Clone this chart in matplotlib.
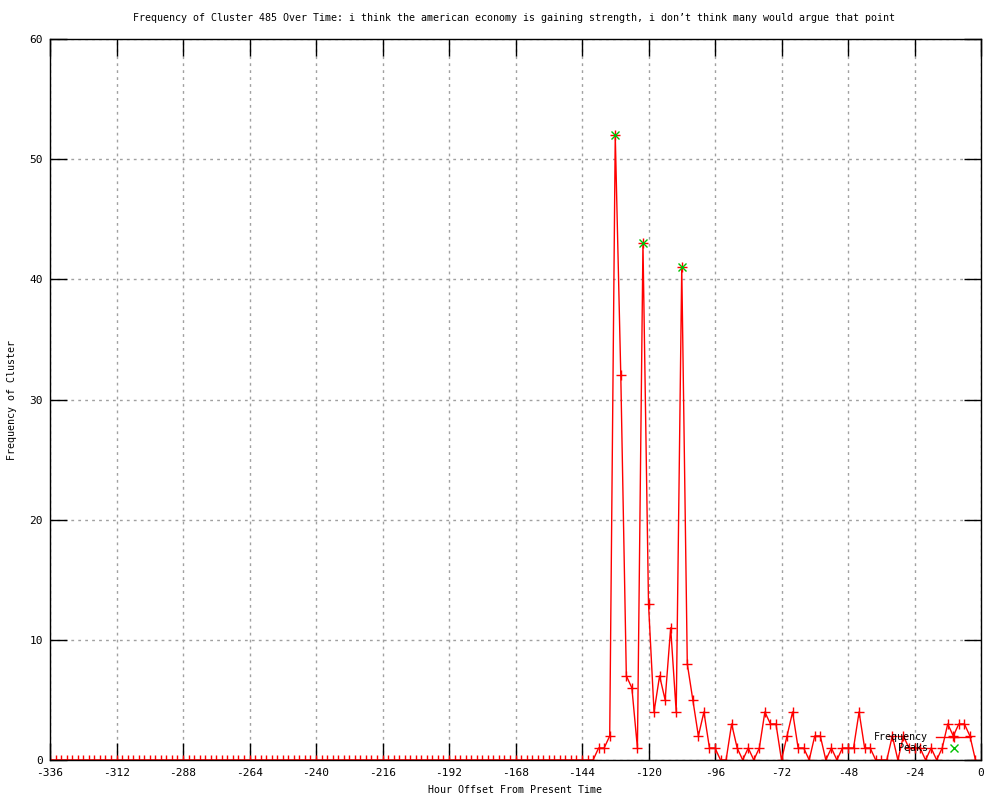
import numpy as np
import matplotlib
matplotlib.use("Agg")
import matplotlib.pyplot as plt

# Data values (hour offsets every 2 hours)
hours = list(range(-336, 0, 2))
active = [1, 1, 2, 52, 32, 7, 6, 1, 43, 13, 4, 7, 5, 11, 4, 41, 8, 5, 2, 4,
          1, 1, 0, 0, 3, 1, 0, 1, 0, 1, 4, 3, 3, 0, 2, 4, 1, 1, 0, 2,
          2, 0, 1, 0, 1, 1, 1, 4, 1, 1, 0, 0, 0, 2, 0, 2, 1, 1, 1, 0,
          1, 0, 1, 3, 2, 3, 3, 2, 0]
freq = [0] * (len(hours) - len(active)) + active

peak_hours = [-132, -122, -108]
peak_vals = [52, 43, 41]

title = ("Frequency of Cluster 485 Over Time: i think the american economy is "
         "gaining strength, i don\u2019t think many would argue that point")

plt.rcParams['font.family'] = ['DejaVu Sans Mono']
plt.rcParams['font.size'] = 8
plt.rcParams['axes.unicode_minus'] = False

fig = plt.figure(figsize=(10, 8), dpi=100)
ax = fig.add_axes([0.05, 0.05, 0.931, 0.90125])

ax.plot(hours, freq, color='red', lw=1, marker='+', markersize=7,
        markeredgewidth=1, label='Frequency')
ax.plot(peak_hours, peak_vals, color='#00c000', lw=0, marker='x',
        markersize=6, markeredgewidth=1, label='Peaks')

#Limits / ticks
ax.set_xlim(-336, 0)
ax.set_ylim(0, 60)
ax.set_xticks(range(-336, 1, 24))
ax.set_yticks(range(0, 61, 10))
ax.tick_params(direction='in', length=12, width=1, top=True, right=True,
               labelsize=8)
ax.tick_params(axis='x', pad=6)
ax.tick_params(axis='y', pad=5)
ax.grid(True, color='#a0a0a0', linestyle=(0, (2, 3)), linewidth=1)
for s in ax.spines.values():
    s.set_linewidth(1)

fig.text(0.514, 0.978, title, ha='center', va='center', fontsize=7.2)
ax.set_xlabel("Hour Offset From Present Time", fontsize=7.2, labelpad=5)
ax.set_ylabel("Frequency of Cluster", fontsize=7.2, labelpad=9)

leg = ax.legend(loc='lower right', bbox_to_anchor=(0.997, 0.0), frameon=False,
                markerfirst=False, fontsize=7.2, handlelength=3.5,
                labelspacing=0.1, borderaxespad=0.3)

fig.savefig("out.png", dpi=100)
